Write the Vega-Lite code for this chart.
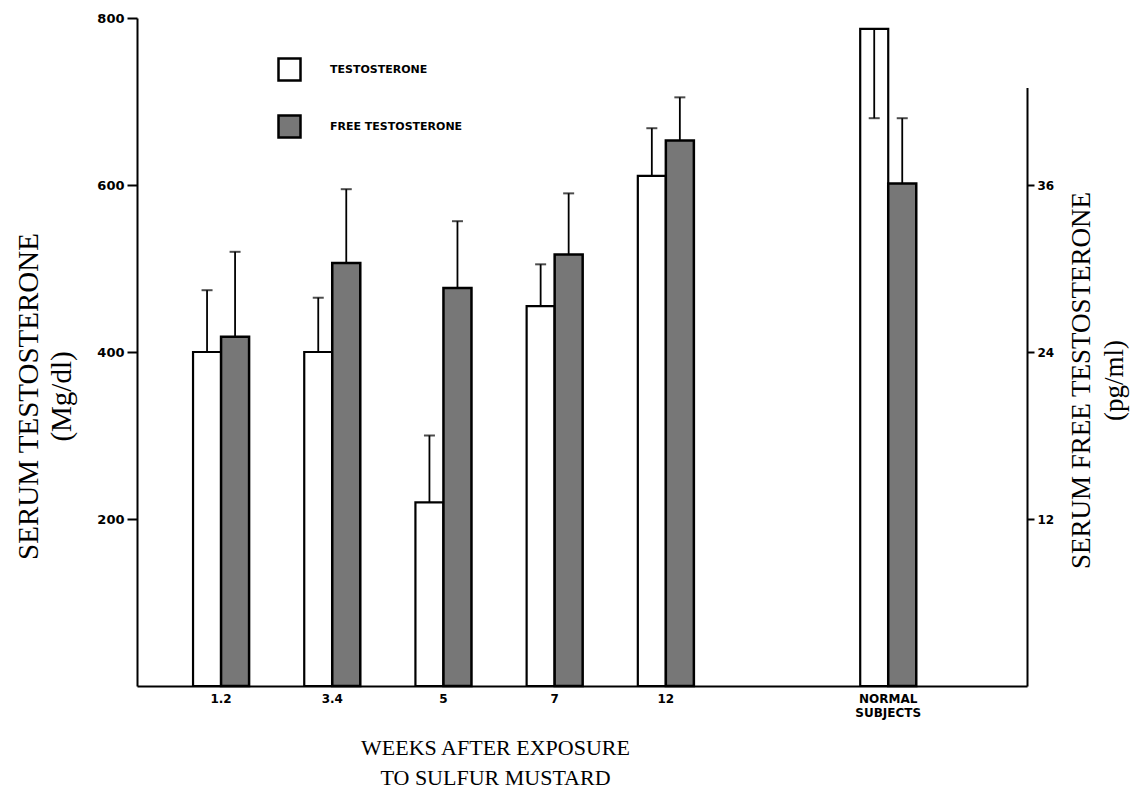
{
  "$schema": "https://vega.github.io/schema/vega-lite/v6.json",
  "width": 890,
  "height": 668,
  "autosize": {"type": "none"},
  "padding": {"left": 137, "top": 18, "right": 114, "bottom": 107},
  "background": "white",
  "config": {
    "view": {"stroke": null},
    "axis": {"domainColor": "black", "tickColor": "black", "labelColor": "black", "titleColor": "black", "grid": false}
  },
  "data": {
    "values": [
      {"week": "1.2", "series": "TESTOSTERONE", "value": 400, "err": 474},
      {"week": "1.2", "series": "FREE TESTOSTERONE", "value": 25.1, "err": 31.2},
      {"week": "3.4", "series": "TESTOSTERONE", "value": 400, "err": 465},
      {"week": "3.4", "series": "FREE TESTOSTERONE", "value": 30.4, "err": 35.7},
      {"week": "5", "series": "TESTOSTERONE", "value": 220, "err": 300},
      {"week": "5", "series": "FREE TESTOSTERONE", "value": 28.6, "err": 33.4},
      {"week": "7", "series": "TESTOSTERONE", "value": 455, "err": 505},
      {"week": "7", "series": "FREE TESTOSTERONE", "value": 31.0, "err": 35.4},
      {"week": "12", "series": "TESTOSTERONE", "value": 611, "err": 668},
      {"week": "12", "series": "FREE TESTOSTERONE", "value": 39.2, "err": 42.3},
      {"week": "NORMAL SUBJECTS", "series": "TESTOSTERONE", "value": 787, "err": 680},
      {"week": "NORMAL SUBJECTS", "series": "FREE TESTOSTERONE", "value": 36.1, "err": 40.8}
    ]
  },
  "encoding": {
    "x": {
      "field": "week",
      "type": "nominal",
      "sort": null,
      "scale": {
        "domain": ["1.2", "3.4", "5", "7", "12", "gap", "NORMAL SUBJECTS"],
        "paddingInner": 0.496,
        "paddingOuter": 0.75,
        "align": 0.336
      },
      "axis": {
        "ticks": false,
        "domainWidth": 2,
        "labelFont": "DejaVu Sans",
        "labelFontWeight": "bold",
        "labelFontSize": 12,
        "labelPadding": 7,
        "labelAngle": 0,
        "labelOverlap": false,
        "labelExpr": "datum.value == 'gap' ? '' : split(datum.value, ' ')",
        "labelLineHeight": 14,
        "title": ["WEEKS AFTER EXPOSURE", "TO SULFUR MUSTARD"],
        "titleFont": "Liberation Serif",
        "titleFontWeight": "normal",
        "titleFontSize": 22,
        "titleLineHeight": 30,
        "titleX": 358,
        "titleY": 51,
        "titleBaseline": "top",
        "titleAlign": "center"
      }
    },
    "xOffset": {
      "field": "series",
      "type": "nominal",
      "scale": {"domain": ["TESTOSTERONE", "FREE TESTOSTERONE"], "paddingInner": 0, "paddingOuter": 0}
    }
  },
  "layer": [
    {
      "transform": [{"filter": "datum.series == 'TESTOSTERONE'"}],
      "encoding": {
        "y": {
          "field": "value",
          "type": "quantitative",
          "scale": {"domain": [0, 800]},
          "axis": {
            "orient": "left",
            "values": [200, 400, 600, 800],
            "tickSize": 10,
            "tickWidth": 2,
            "domainWidth": 2,
            "labelFont": "DejaVu Sans",
            "labelFontWeight": "bold",
            "labelFontSize": 13,
            "labelPadding": 3,
            "title": ["SERUM TESTOSTERONE", "(Mg/dl)"],
            "titleFont": "Liberation Serif",
            "titleFontWeight": "normal",
            "titleFontSize": 29,
            "titleLineHeight": 33,
            "titleAngle": 270,
            "titleX": -123,
            "titleY": 378,
            "titleBaseline": "top",
            "titleAlign": "center"
          }
        }
      },
      "layer": [
        {
          "mark": {"type": "bar", "stroke": "black", "strokeWidth": 2.2},
          "encoding": {
            "fill": {
              "field": "series",
              "type": "nominal",
              "scale": {"domain": ["TESTOSTERONE", "FREE TESTOSTERONE"], "range": ["white", "#777777"]},
              "legend": {
                "orient": "none",
                "legendX": 140,
                "legendY": 39,
                "title": null,
                "symbolType": "square",
                "symbolSize": 484,
                "symbolStrokeColor": "black",
                "symbolStrokeWidth": 2.5,
                "labelFont": "DejaVu Sans",
                "labelFontWeight": "bold",
                "labelFontSize": 11,
                "labelOffset": 28,
                "rowPadding": 24
              }
            }
          }
        },
        {
          "mark": {"type": "rule", "strokeWidth": 1.8, "color": "black"},
          "encoding": {"y2": {"field": "err"}}
        },
        {
          "mark": {"type": "tick", "size": 11, "thickness": 2, "color": "black"},
          "encoding": {
            "y": {"field": "err", "type": "quantitative", "axis": {"orient": "left", "values": [200, 400, 600, 800], "title": ["SERUM TESTOSTERONE", "(Mg/dl)"]}}
          }
        }
      ]
    },
    {
      "transform": [{"filter": "datum.series == 'FREE TESTOSTERONE'"}],
      "encoding": {
        "y": {
          "field": "value",
          "type": "quantitative",
          "scale": {"domain": [0, 43], "range": [668, 69.6]},
          "axis": {
            "orient": "right",
            "values": [12, 24, 36],
            "tickSize": 7,
            "tickWidth": 2,
            "domainWidth": 2,
            "labelFont": "DejaVu Sans",
            "labelFontWeight": "bold",
            "labelFontSize": 12,
            "labelPadding": 3,
            "title": ["SERUM FREE TESTOSTERONE", "(pg/ml)"],
            "titleFont": "Liberation Serif",
            "titleFontWeight": "normal",
            "titleFontSize": 27,
            "titleLineHeight": 33,
            "titleAngle": 270,
            "titleX": 41,
            "titleY": 362,
            "titleBaseline": "top",
            "titleAlign": "center"
          }
        }
      },
      "layer": [
        {
          "mark": {"type": "bar", "stroke": "black", "strokeWidth": 2.5},
          "encoding": {
            "fill": {"field": "series", "type": "nominal"}
          }
        },
        {
          "mark": {"type": "rule", "strokeWidth": 1.8, "color": "black"},
          "encoding": {"y2": {"field": "err"}}
        },
        {
          "mark": {"type": "tick", "size": 11, "thickness": 2, "color": "black"},
          "encoding": {
            "y": {"field": "err", "type": "quantitative", "axis": {"orient": "right", "values": [12, 24, 36], "title": ["SERUM FREE TESTOSTERONE", "(pg/ml)"]}}
          }
        }
      ]
    }
  ],
  "resolve": {"scale": {"y": "independent"}}
}
